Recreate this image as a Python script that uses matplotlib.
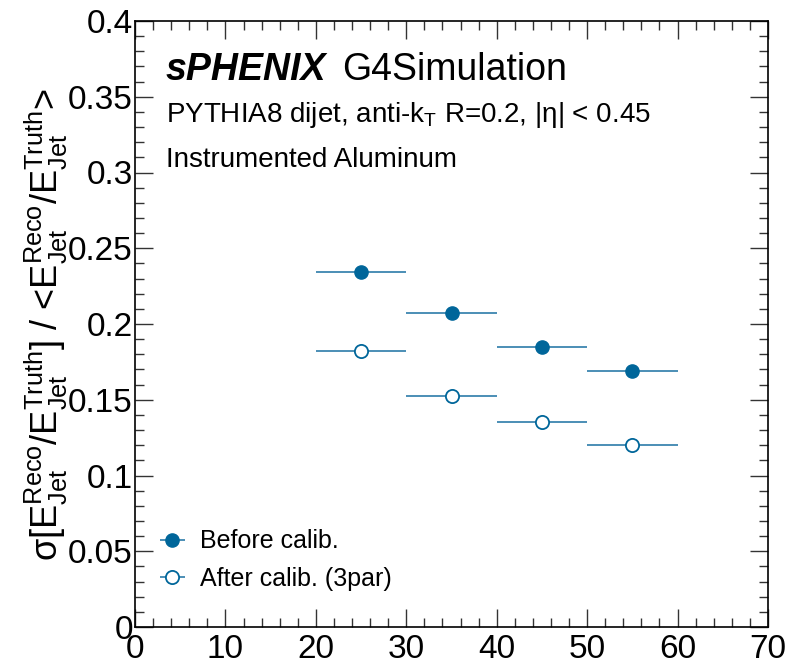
import matplotlib
matplotlib.use("Agg")
import matplotlib.pyplot as plt
from matplotlib.ticker import MultipleLocator, FixedLocator

plt.rcParams['font.family'] = ['Liberation Sans', 'DejaVu Sans']
plt.rcParams['mathtext.fontset'] = 'custom'
plt.rcParams['mathtext.rm'] = 'Liberation Sans'
plt.rcParams['mathtext.it'] = 'Liberation Sans:italic'
plt.rcParams['mathtext.bf'] = 'Liberation Sans:bold'
plt.rcParams['mathtext.default'] = 'regular'

# Data
bin_centers = [25, 35, 45, 55]
bin_half_widths = [5, 5, 5, 5]
before_calib = [0.234, 0.2075, 0.185, 0.169]
after_calib = [0.182, 0.1525, 0.135, 0.120]
xticks = [0, 10, 20, 30, 40, 50, 60, 70]
yticks = [0, 0.05, 0.1, 0.15, 0.2, 0.25, 0.3, 0.35, 0.4]
ytick_labels = ['0', '0.05', '0.1', '0.15', '0.2', '0.25', '0.3', '0.35', '0.4']

W, H = 791, 666
fig = plt.figure(figsize=(W / 100, H / 100), dpi=100)
L, R, T, B = 135, 768, 21, 627
ax = fig.add_axes([L / W, 1 - B / H, (R - L) / W, (B - T) / H])

col = '#00669a'
ax.errorbar(bin_centers, before_calib, xerr=bin_half_widths, fmt='o', color=col,
            ecolor='#3d86b0', ms=9.5, mec=col, mfc=col, elinewidth=1.3, capsize=0,
            label='Before calib.')
ax.errorbar(bin_centers, after_calib, xerr=bin_half_widths, fmt='o', color=col,
            ecolor='#3d86b0', ms=9.5, mec=col, mfc='white', mew=1.3, elinewidth=1.3,
            capsize=0, label='After calib. (3par)')

ax.set_xlim(0, 70)
ax.set_ylim(0, 0.4)
ax.xaxis.set_major_locator(FixedLocator(xticks))
ax.xaxis.set_minor_locator(MultipleLocator(2))
ax.yaxis.set_major_locator(FixedLocator(yticks))
ax.set_yticklabels(ytick_labels)
ax.yaxis.set_minor_locator(MultipleLocator(0.01))
ax.tick_params(which='both', direction='in', top=True, right=True, width=1.0, color='#333333')
ax.tick_params(which='major', length=13, labelsize=24)
ax.tick_params(axis='y', which='major', pad=1.5)
ax.tick_params(axis='x', which='major', pad=5)
ax.tick_params(which='minor', length=6.5)
for s in ax.spines.values():
    s.set_linewidth(1.2)

leg = ax.legend(loc='lower left', bbox_to_anchor=(-0.004, 0.026), frameon=False, fontsize=18,
                handlelength=1.6, handletextpad=0.3, labelspacing=0.55, borderaxespad=0.4)

# Annotations
fig.text(166 / W, 1 - 80 / H, 'sPHENIX', fontsize=27, fontweight='bold', fontstyle='italic')
fig.text(342 / W, 1 - 80 / H, 'G4Simulation', fontsize=27)
fig.text(166 / W, 1 - 122 / H, r'PYTHIA8 dijet, anti-k$_{T}$ R=0.2, |η| < 0.45', fontsize=20)
fig.text(166 / W, 1 - 167 / H, 'Instrumented Aluminum', fontsize=20)

ylab = (r'$\sigma[E^{Reco}_{Jet}/E^{Truth}_{Jet}]$ / '
        r'<$E^{Reco}_{Jet}/E^{Truth}_{Jet}$>')
fig.text(46 / W, 1 - 325 / H, ylab, rotation=90, ha='center', va='center', fontsize=26)

fig.savefig('out.png', dpi=100)
